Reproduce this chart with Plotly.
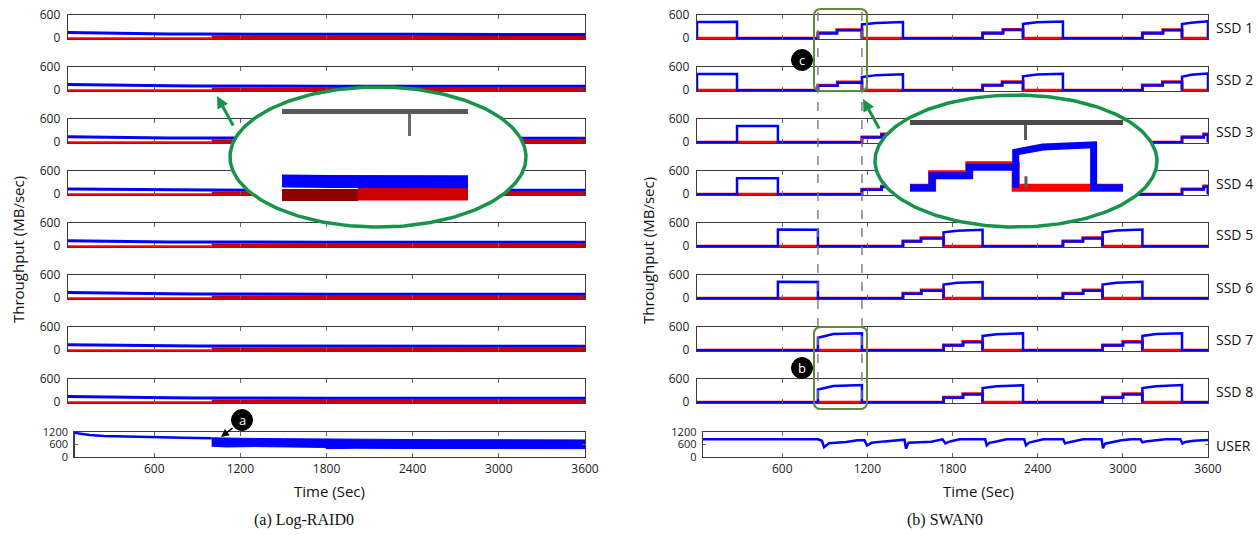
import numpy as np
import plotly.graph_objects as go

W, H = 1259, 535

# ---------------- (a) Log-RAID0 data ----------------
LR_T = [0, 150, 300, 500, 700, 900, 1000, 1400, 1800, 2400, 3000, 3600]
LR_SSD1_BLUE = [145, 135, 125, 118, 112, 108, 105, 102, 100, 100, 98, 98]
LR_SSD2_BLUE = [150, 140, 128, 120, 115, 112, 110, 108, 105, 105, 103, 102]
LR_SSD3_BLUE = [140, 130, 122, 116, 112, 110, 108, 106, 104, 103, 102, 102]
LR_SSD4_BLUE = [135, 128, 120, 115, 110, 108, 106, 104, 102, 100, 100, 100]
LR_SSD5_BLUE = [140, 130, 122, 116, 112, 110, 108, 105, 103, 102, 100, 100]
LR_SSD6_BLUE = [145, 135, 126, 118, 113, 110, 108, 105, 103, 102, 101, 100]
LR_SSD7_BLUE = [140, 132, 124, 118, 114, 110, 108, 106, 104, 102, 100, 100]
LR_SSD8_BLUE = [145, 136, 126, 118, 114, 110, 108, 106, 104, 102, 101, 100]
LR_BLUES = [LR_SSD1_BLUE, LR_SSD2_BLUE, LR_SSD3_BLUE, LR_SSD4_BLUE,
            LR_SSD5_BLUE, LR_SSD6_BLUE, LR_SSD7_BLUE, LR_SSD8_BLUE]
LR_RED_PRE_T = [0, 1000]
LR_RED_PRE = [0, 0]
LR_RED_POST_T = [1000, 3600]
LR_RED_POST = [20, 20]

LR_TOT_T = [42, 80, 150, 250, 400, 600, 800, 1000]
LR_TOT = [1160, 1120, 1060, 1010, 980, 960, 930, 900]
LR_BAND_T = [1000, 1100, 1300, 1500, 1700, 1790, 1800, 2000, 2300, 2600, 2900, 3200, 3600]
LR_BAND_HI = [920, 900, 890, 880, 870, 860, 840, 850, 840, 830, 830, 820, 820]
LR_BAND_LO = [520, 480, 500, 490, 470, 460, 400, 420, 410, 400, 410, 400, 400]

# ---------------- (b) SWAN0 data ----------------
SLOT_T = [0, 282, 570, 852, 1162, 1451, 1737, 2012, 2297, 2578, 2857, 3138, 3417, 3600]
# ("H", slot, blue start, blue 35%, blue end)  /  ("S", slot, split t, blue1, blue2, red1, red2)
SW_SSD1 = [("H", 0, 420, 420, 425), ("S", 3, 986, 125, 205, 140, 222), ("H", 4, 355, 395, 420),
           ("S", 7, 2156, 125, 210, 140, 225), ("H", 8, 370, 410, 430),
           ("S", 11, 3283, 125, 205, 140, 220), ("H", 12, 365, 400, 440)]
SW_SSD2 = [("H", 0, 420, 420, 420), ("S", 3, 990, 115, 195, 130, 215), ("H", 4, 340, 390, 410),
           ("S", 7, 2150, 120, 200, 135, 220), ("H", 8, 360, 405, 425),
           ("S", 11, 3280, 120, 205, 135, 220), ("H", 12, 350, 400, 435)]
SW_SSD3 = [("H", 1, 420, 420, 420), ("S", 4, 1300, 120, 190, 135, 210), ("H", 5, 350, 400, 430),
           ("S", 8, 2440, 120, 195, 135, 215), ("H", 9, 360, 405, 430),
           ("S", 12, 3570, 125, 200, 140, 215)]
SW_SSD4 = [("H", 1, 415, 415, 415), ("S", 4, 1300, 115, 185, 130, 205), ("H", 5, 345, 395, 425),
           ("S", 8, 2440, 115, 190, 130, 210), ("H", 9, 355, 400, 425),
           ("S", 12, 3570, 120, 195, 135, 210)]
SW_SSD5 = [("H", 2, 430, 430, 425), ("S", 5, 1578, 120, 200, 135, 220), ("H", 6, 360, 400, 425),
           ("S", 9, 2719, 120, 200, 135, 220), ("H", 10, 360, 405, 430)]
SW_SSD6 = [("H", 2, 425, 425, 420), ("S", 5, 1580, 115, 195, 130, 215), ("H", 6, 355, 400, 420),
           ("S", 9, 2720, 115, 195, 130, 215), ("H", 10, 355, 400, 425)]
SW_SSD7 = [("H", 3, 320, 420, 440), ("S", 6, 1874, 120, 205, 135, 225), ("H", 7, 370, 415, 440),
           ("S", 10, 3001, 120, 205, 135, 225), ("H", 11, 370, 420, 440)]
SW_SSD8 = [("H", 3, 330, 420, 445), ("S", 6, 1874, 115, 200, 130, 220), ("H", 7, 365, 410, 440),
           ("S", 10, 3001, 115, 200, 130, 220), ("H", 11, 365, 415, 445)]
SW_SSDS = [SW_SSD1, SW_SSD2, SW_SSD3, SW_SSD4, SW_SSD5, SW_SSD6, SW_SSD7, SW_SSD8]
SSD_LABELS = ["SSD 1", "SSD 2", "SSD 3", "SSD 4", "SSD 5", "SSD 6", "SSD 7", "SSD 8"]

USER_T = [42, 852, 880, 895, 930, 1050, 1130, 1180, 1198, 1230, 1320, 1420, 1462, 1472, 1490,
          1530, 1650, 1730, 1750, 1765, 1790, 1850, 2030, 2041, 2060, 2110, 2180, 2305, 2318,
          2340, 2390, 2440, 2580, 2593, 2615, 2660, 2720, 2850, 2860, 2875, 2920, 2990, 3060,
          3125, 3138, 3160, 3220, 3300, 3405, 3420, 3440, 3500, 3600]
USER_V = [850, 850, 780, 470, 660, 720, 800, 800, 550, 680, 750, 830, 830, 400, 690,
          700, 730, 850, 650, 700, 760, 850, 850, 560, 680, 740, 850, 850, 560,
          690, 760, 850, 850, 650, 700, 780, 850, 850, 420, 640, 700, 800, 850,
          850, 700, 740, 790, 850, 850, 650, 720, 780, 820]

X_TICKS = [600, 1200, 1800, 2400, 3000, 3600]
ZOOM_T = [852, 1162]

# ---------------- layout helpers ----------------
BLUE, RED, DRED = "#0000ff", "#ff0000", "#c80000"
AX = "#3c3c3c"
GREEN = "#17944a"
OLIVE = "#5e8c3c"
FONT = "Open Sans"


def pxx(p):
    return p / W


def pxy(p):
    return 1 - p / H


ROW_TOP = [15 + 52 * i for i in range(8)]
ROW_H = 24
BOT = (432, 457)
LEFT_X = (68, 585)
RIGHT_X = (697, 1208)

layout = dict(width=W, height=H, margin=dict(l=0, r=0, t=0, b=0, pad=0, autoexpand=False),
              autosize=False,
              paper_bgcolor="white", plot_bgcolor="rgba(0,0,0,0)", showlegend=False,
              font=dict(family=FONT, size=12, color="#222"))


def akey(prefix, k):
    return prefix if k == 1 else f"{prefix}{k}"


def add_axes(k, xpx, ypx, xr, yr, bottom=False):
    xa = dict(domain=[pxx(xpx[0]), pxx(xpx[1])], range=xr, anchor=akey("y", k),
              showline=True, linecolor=AX, linewidth=1.3, mirror="allticks",
              ticks="inside", ticklen=4, tickwidth=1, tickcolor="#666",
              tickvals=X_TICKS, showticklabels=bottom, showgrid=False, zeroline=False,
              fixedrange=True, automargin=False, tickfont=dict(size=12, color="#222"))
    ya = dict(domain=[pxy(ypx[1]), pxy(ypx[0])], range=yr, anchor=akey("x", k),
              showline=True, linecolor=AX, linewidth=1.3, showgrid=False, zeroline=False,
              fixedrange=True, automargin=False, tickfont=dict(size=12, color="#222"),
              ticklabelstandoff=4)
    if bottom:
        ya.update(tickvals=[0, 600, 1200], ticks="inside", ticklen=3, mirror="allticks",
                  tickcolor="#666", tickfont=dict(size=11, color="#222"), ticklabelstandoff=3)
    else:
        ya.update(tickvals=[0, 600], ticks="", mirror=True)
    layout[akey("xaxis", k)] = xa
    layout[akey("yaxis", k)] = ya


fig = go.Figure()


def line(k, x, y, color, width):
    fig.add_trace(go.Scatter(x=x, y=y, mode="lines", line=dict(color=color, width=width),
                             xaxis=akey("x", k), yaxis=akey("y", k), hoverinfo="skip"))


# left panel rows
for i in range(8):
    k = i + 1
    add_axes(k, LEFT_X, (ROW_TOP[i], ROW_TOP[i] + ROW_H), [0, 3600], [-20, 600])
    line(k, LR_RED_PRE_T, LR_RED_PRE, RED, 2)
    line(k, LR_RED_POST_T, LR_RED_POST, DRED, 4)
    line(k, LR_T, LR_BLUES[i], BLUE, 3)

# left bottom
add_axes(9, (74.5, 585), BOT, [45, 3600], [0, 1200], bottom=True)
line(9, LR_TOT_T, LR_TOT, BLUE, 2.5)
fig.add_trace(go.Scatter(x=LR_BAND_T, y=LR_BAND_LO, mode="lines", line=dict(color=BLUE, width=1),
                         xaxis="x9", yaxis="y9", hoverinfo="skip"))
fig.add_trace(go.Scatter(x=LR_BAND_T, y=LR_BAND_HI, mode="lines", line=dict(color=BLUE, width=1),
                         fill="tonexty", fillcolor=BLUE, xaxis="x9", yaxis="y9", hoverinfo="skip"))


def build_swan(phases):
    bt, bv, rt, rv = [], [], [], []
    by_slot = {p[1]: p for p in phases}
    for s in range(len(SLOT_T) - 1):
        a, b = SLOT_T[s], SLOT_T[s + 1]
        p = by_slot.get(s)
        if p is None:
            bt += [a, b]; bv += [0, 0]; rt += [a, b]; rv += [0, 0]
        elif p[0] == "H":
            _, _, v0, v1, v2 = p
            m = a + 0.35 * (b - a)
            bt += [a, a, m, b, b]; bv += [0, v0, v1, v2, 0]
            rt += [a, b]; rv += [0, 0]
        else:
            _, _, sp, b1, b2, r1, r2 = p
            bt += [a, a, sp, sp, b, b]; bv += [0, b1, b1, b2, b2, 0]
            rt += [a, a, sp, sp, b, b]; rv += [0, r1, r1, r2, r2, 0]
    return bt, bv, rt, rv


SWAN_LINES = [build_swan(p) for p in SW_SSDS]

# right panel rows
for i in range(8):
    k = 10 + i
    add_axes(k, RIGHT_X, (ROW_TOP[i], ROW_TOP[i] + ROW_H), [0, 3600], [-20, 600])
    bt, bv, rt, rv = SWAN_LINES[i]
    line(k, rt, rv, RED, 3)
    line(k, bt, bv, BLUE, 2.5)

add_axes(18, (703, 1208), BOT, [42, 3600], [0, 1200], bottom=True)
line(18, USER_T, USER_V, BLUE, 2.5)

# overlay axis (pixel coordinates) for the magnifier ellipses
layout["xaxis19"] = dict(domain=[0, 1], range=[0, W], visible=False, fixedrange=True, anchor="y19",
                         automargin=False)
layout["yaxis19"] = dict(domain=[0, 1], range=[H, 0], visible=False, fixedrange=True, anchor="x19",
                         automargin=False)
ELLIPSES = [(378, 157, 148, 70), (1016, 161, 141, 66)]
th = np.linspace(0, 2 * np.pi, 240)
for cx, cy, rx, ry in ELLIPSES:
    fig.add_trace(go.Scatter(x=cx + rx * np.cos(th), y=cy + ry * np.sin(th), mode="lines",
                             fill="toself", fillcolor="white", line=dict(color=GREEN, width=3.5),
                             xaxis="x19", yaxis="y19", hoverinfo="skip"))

# left inset: zoom of Log-RAID0 SSD 2 around t=1000
layout["xaxis20"] = dict(domain=[pxx(282), pxx(468)], range=[708, 1423], anchor="y20", side="top",
                         showline=True, linecolor="#5a5a5a", linewidth=5, mirror=False,
                         ticks="inside", tickvals=[1200], ticklen=22, tickwidth=3, tickcolor="#6a6a6a",
                         showticklabels=False, showgrid=False, zeroline=False, fixedrange=True,
                         automargin=False)
layout["yaxis20"] = dict(domain=[pxy(201), pxy(114)], range=[-30, 600], anchor="x20", visible=False,
                         fixedrange=True, automargin=False)
line(20, LR_RED_PRE_T, [10, 10], "#8e0000", 13)
line(20, LR_RED_POST_T, LR_RED_POST, "#d00000", 13)
line(20, LR_T, LR_BLUES[1], BLUE, 13)

# right inset: zoom of SWAN0 SSD 2 around t=1162
layout["xaxis21"] = dict(domain=[pxx(910), pxx(1123)], range=[770, 1560], anchor="y21", side="top",
                         showline=True, linecolor="#4a4a4a", linewidth=5, mirror=False,
                         ticks="inside", tickvals=[1200], ticklen=15, tickwidth=3, tickcolor="#5a5a5a",
                         showticklabels=False, showgrid=False, zeroline=False, fixedrange=True,
                         automargin=False)
layout["yaxis21"] = dict(domain=[pxy(194), pxy(125)], range=[-60, 600], anchor="x21", visible=False,
                         zeroline=True, zerolinecolor="#4a4a4a", zerolinewidth=4, fixedrange=True,
                         automargin=False)
bt, bv, rt, rv = SWAN_LINES[1]
line(21, rt, rv, RED, 8)
line(21, bt, bv, BLUE, 7)

# ---------------- shapes ----------------
shapes = []
for t in ZOOM_T:
    shapes.append(dict(type="line", xref="x10", yref="paper", x0=t, x1=t, y0=pxy(12), y1=pxy(410),
                       line=dict(color="#7a7a7a", width=1.4, dash="dash"), layer="above"))
shapes.append(dict(type="line", xref="x21", yref="y21", x0=1200, x1=1200, y0=0, y1=110,
                   line=dict(color="#5a5a5a", width=3), layer="above"))


def rrect(x0, y0, x1, y1, r):
    pts = [f"M {pxx(x0 + r)},{pxy(y0)}", f"L {pxx(x1 - r)},{pxy(y0)}",
           f"Q {pxx(x1)},{pxy(y0)} {pxx(x1)},{pxy(y0 + r)}", f"L {pxx(x1)},{pxy(y1 - r)}",
           f"Q {pxx(x1)},{pxy(y1)} {pxx(x1 - r)},{pxy(y1)}", f"L {pxx(x0 + r)},{pxy(y1)}",
           f"Q {pxx(x0)},{pxy(y1)} {pxx(x0)},{pxy(y1 - r)}", f"L {pxx(x0)},{pxy(y0 + r)}",
           f"Q {pxx(x0)},{pxy(y0)} {pxx(x0 + r)},{pxy(y0)}", "Z"]
    return " ".join(pts)


for (y0, y1) in [(9, 91), (327, 409)]:
    shapes.append(dict(type="path", xref="paper", yref="paper", path=rrect(814, y0, 867, y1, 7),
                       line=dict(color=OLIVE, width=2), layer="above"))

BADGES = [("c", 802, 60), ("b", 802, 368), ("a", 242, 420)]
annotations = []
for txt, bx, by in BADGES:
    shapes.append(dict(type="circle", xref="paper", yref="paper", x0=pxx(bx - 10.5), x1=pxx(bx + 10.5),
                       y0=pxy(by + 10.5), y1=pxy(by - 10.5), fillcolor="black",
                       line=dict(color="black", width=1), layer="above"))
    annotations.append(dict(text=txt, x=pxx(bx), y=pxy(by), xref="paper", yref="paper",
                            showarrow=False, font=dict(color="white", size=13, family=FONT),
                            xanchor="center", yanchor="middle"))

# arrows
annotations.append(dict(x=pxx(221), y=pxy(437), xref="paper", yref="paper", ax=13, ay=-10,
                        axref="pixel", ayref="pixel", showarrow=True, arrowhead=2, arrowsize=1,
                        arrowwidth=1.6, arrowcolor="black", text=""))
for tipx, tipy in [(217, 96), (863, 99)]:
    annotations.append(dict(x=pxx(tipx), y=pxy(tipy), xref="paper", yref="paper", ax=17, ay=31,
                            axref="pixel", ayref="pixel", showarrow=True, arrowhead=2, arrowsize=0.8,
                            arrowwidth=3, arrowcolor=GREEN, text=""))

# labels
for i, lab in enumerate(SSD_LABELS):
    annotations.append(dict(text=lab, x=pxx(1214), y=pxy(ROW_TOP[i] + 12), xref="paper", yref="paper",
                            showarrow=False, xanchor="left", yanchor="middle",
                            font=dict(size=14, family=FONT, color="#111")))
annotations.append(dict(text="USER", x=pxx(1214), y=pxy(445), xref="paper", yref="paper",
                        showarrow=False, xanchor="left", yanchor="middle",
                        font=dict(size=14, family=FONT, color="#111")))
for xc in (18, 648):
    annotations.append(dict(text="Throughput (MB/sec)", x=pxx(xc), y=pxy(250), xref="paper", yref="paper",
                            showarrow=False, textangle=-90, xanchor="center", yanchor="middle",
                            font=dict(size=15, family=FONT, color="#111")))
for xc in (330, 978):
    annotations.append(dict(text="Time (Sec)", x=pxx(xc), y=pxy(491), xref="paper", yref="paper",
                            showarrow=False, xanchor="center", yanchor="middle",
                            font=dict(size=15, family=FONT, color="#111")))
for txt, xc in [("(a) Log-RAID0", 304), ("(b) SWAN0", 945)]:
    annotations.append(dict(text=txt, x=pxx(xc), y=pxy(520), xref="paper", yref="paper",
                            showarrow=False, xanchor="center", yanchor="middle",
                            font=dict(size=16, family="Liberation Serif", color="#111")))

layout["shapes"] = shapes
layout["annotations"] = annotations
fig.update_layout(**layout)
fig.write_html("out.html", config={"displayModeBar": False, "staticPlot": True},
               post_script="document.body.style.margin='0px';document.body.style.overflow='hidden';")
